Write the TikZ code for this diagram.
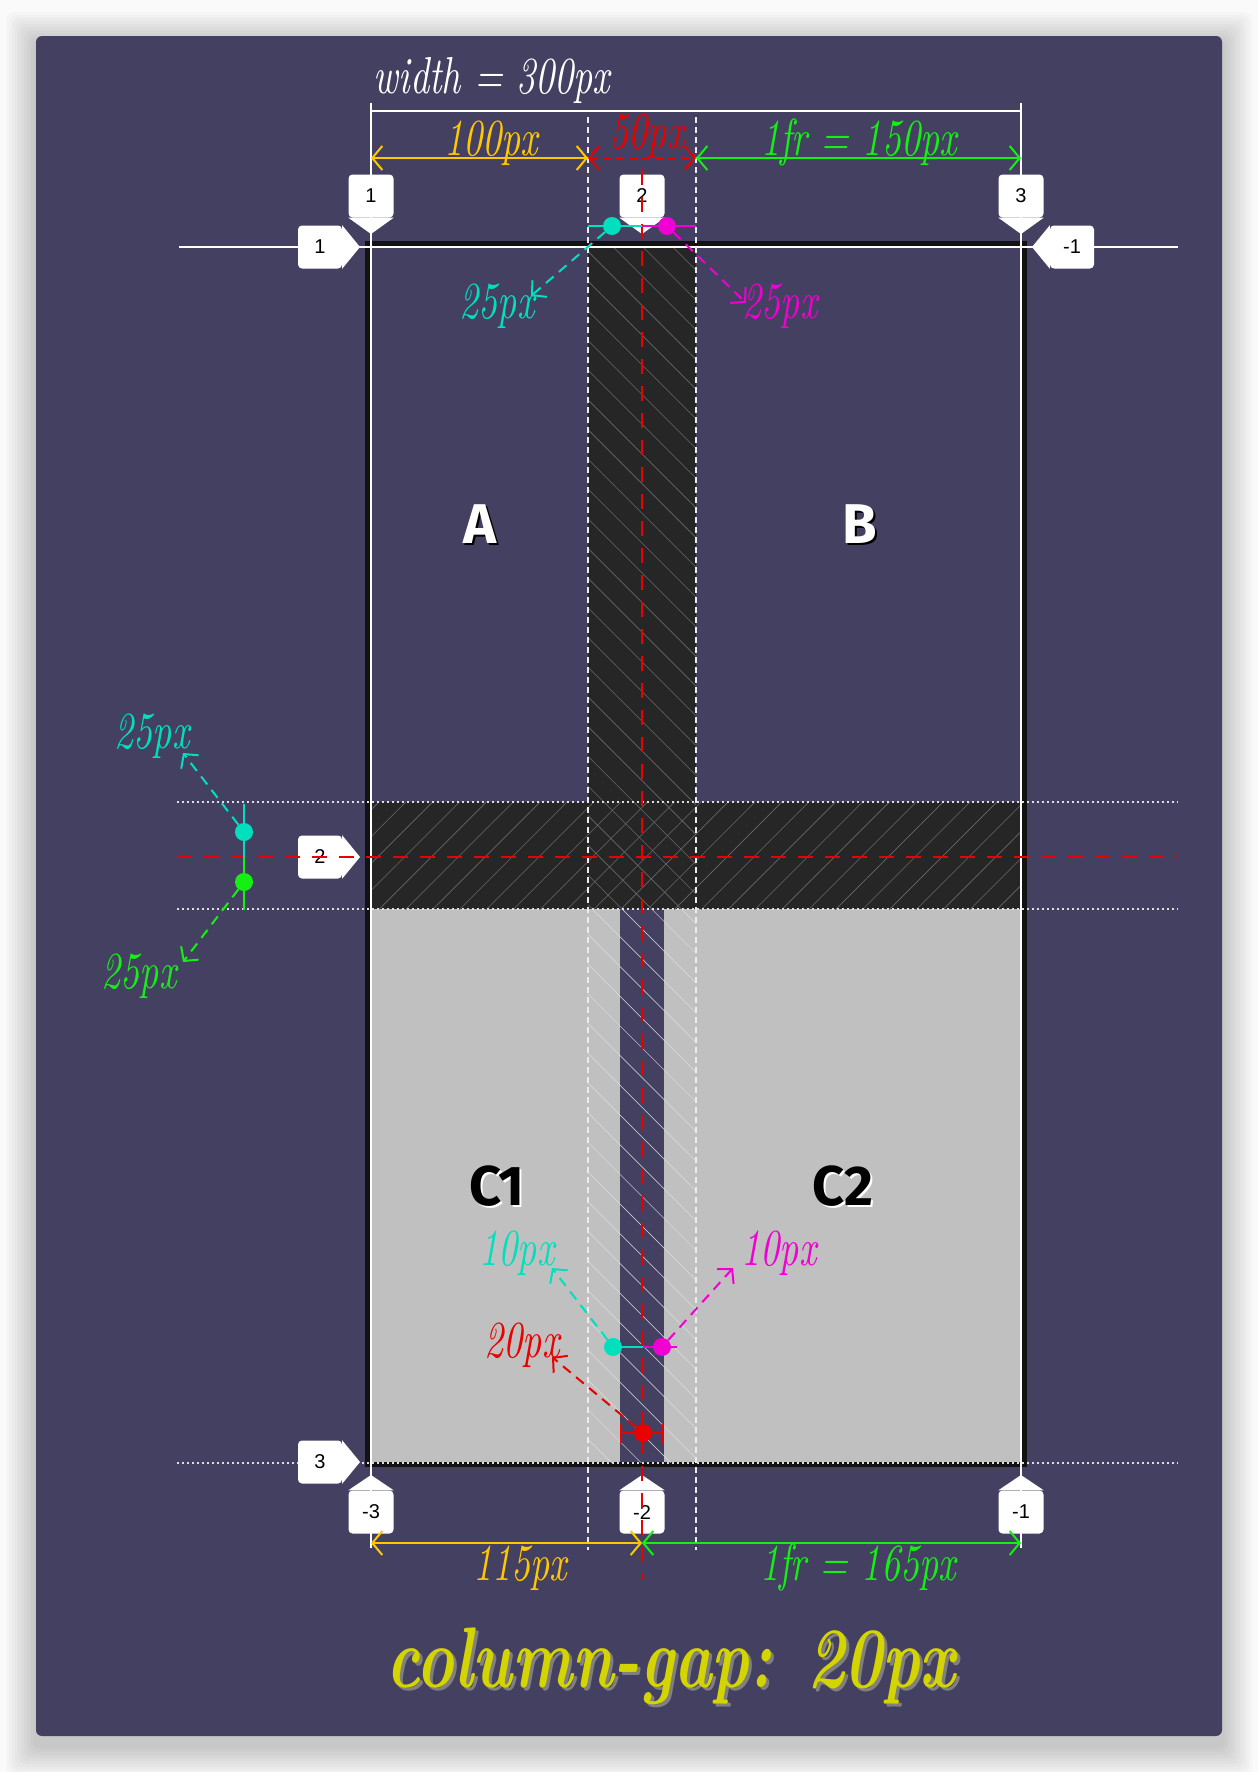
\documentclass[tikz,border=0pt]{standalone}
\usepackage{fontspec}
\usetikzlibrary{arrows.meta,patterns.meta}

\newfontfamily\hand{lmroman10-italic.otf}[FakeStretch=0.72]
\newfontfamily\handbold{lmroman10-bolditalic.otf}[FakeStretch=0.74]
\newfontfamily\badgefont{Liberation Sans}
\newfontfamily\cellfont{Fira Sans}

\definecolor{pagebg}{RGB}{250,250,250}
\definecolor{panel}{RGB}{68,64,98}
\definecolor{gapdark}{RGB}{38,38,38}
\definecolor{cellgrey}{RGB}{192,192,192}
\definecolor{hatchdark}{RGB}{105,105,105}
\definecolor{hatchlight}{RGB}{222,222,222}
\definecolor{gridaqua}{RGB}{0,224,190}
\definecolor{gridpink}{RGB}{240,0,210}
\definecolor{gridlime}{RGB}{20,240,20}
\definecolor{gridgold}{RGB}{255,200,0}
\definecolor{gridred}{RGB}{235,0,0}
\definecolor{titleyellow}{RGB}{212,212,0}

\tikzset{
  gridline/.style={white, line width=2pt},
  dotline/.style={white!75!gray, line width=1.5pt, dash pattern=on 2pt off 3pt},
  dashline/.style={white!85!gray, line width=1.5pt, dash pattern=on 6pt off 4pt},
  redline/.style={gridred, line width=2.5pt, dash pattern=on 15pt off 12pt},
  dimarrow/.style={line width=2pt, {Straight Barb[length=10pt,width=24pt]}-{Straight Barb[length=10pt,width=24pt]}},
  dasharrow/.style={line width=2pt, dash pattern=on 10pt off 7pt, -{Straight Barb[length=10pt,width=22pt]}},
  dot/.style={circle, minimum size=18pt, inner sep=0pt},
  badge/.style={fill=white, rounded corners=4pt, inner sep=0pt, minimum height=43pt, font=\badgefont\fontsize{20}{24}\selectfont},
  colbadge/.style={badge, minimum width=45pt},
  rowbadge/.style={badge, minimum width=44pt},
  dimlabel/.style={font=\hand\fontsize{52}{60}\selectfont, anchor=base, inner sep=0pt},
  celllabel/.style={font=\cellfont\bfseries\fontsize{56}{64}\selectfont, anchor=base, inner sep=0pt},
}

\begin{document}
\begin{tikzpicture}[x=1pt, y=-1pt]
    \useasboundingbox (0,0) rectangle (1258,1772);
    \fill[pagebg] (0,0) rectangle (1258,1772);
    % soft shadow and panel
    \foreach \s in {1,...,10}
        \fill[black, opacity=0.018, rounded corners=8pt] (36-3*\s,36-3*\s+6) rectangle (1222+3*\s,1736+3*\s+10);
    \fill[panel, rounded corners=6pt] (36,36) rectangle (1222,1736);

    % grid container, tracks and gaps
    \draw[line width=5pt, black!93] (367.5,243.5) rectangle (1024.5,1464.5);
    \fill[gapdark] (588,247) rectangle (696,802);
    \fill[gapdark] (371,802) rectangle (1021,909);
    \fill[cellgrey] (371,909) rectangle (620,1462);
    \fill[cellgrey] (664,909) rectangle (1021,1462);
    \fill[pattern={Lines[angle=-45,distance=21pt,line width=0.6pt]}, pattern color=hatchdark] (588,247) rectangle (696,909);
    \fill[pattern={Lines[angle=45,distance=19pt,line width=0.6pt]}, pattern color=hatchdark] (371,802) rectangle (1021,909);
    \fill[pattern={Lines[angle=-45,distance=21pt,line width=0.5pt]}, pattern color=hatchlight] (588,909) rectangle (696,1462);

    % grid lines
    \draw[gridline] (179,247) -- (1178,247);
    \draw[dotline] (177,802) -- (1178,802);
    \draw[dotline] (177,909) -- (1178,909);
    \draw[dotline] (177,1463) -- (1178,1463);
    \draw[gridline] (371,103) -- (371,1548);
    \draw[gridline] (1021,103) -- (1021,1548);
    \draw[gridline] (371,111) -- (1021,111);
    \draw[dashline] (588,117) -- (588,1550);
    \draw[dashline] (696,117) -- (696,1550);

    % line number badges
    \node[colbadge] (ct1) at (371,196) {1};
    \node[colbadge] (ct2) at (642,196) {2};
    \node[colbadge] (ct3) at (1021,196) {3};
    \fill[white] (ct1.south west) -- (371,234) -- (ct1.south east) -- cycle;
    \fill[white] (ct2.south west) -- (642,234) -- (ct2.south east) -- cycle;
    \fill[white] (ct3.south west) -- (1021,234) -- (ct3.south east) -- cycle;
    \node[colbadge] (cb1) at (371,1512) {-3};
    \node[colbadge] (cb2) at (642,1512) {-2};
    \node[colbadge] (cb3) at (1021,1512) {-1};
    \fill[white] (cb1.north west) -- (371,1475) -- (cb1.north east) -- cycle;
    \fill[white] (cb2.north west) -- (642,1475) -- (cb2.north east) -- cycle;
    \fill[white] (cb3.north west) -- (1021,1475) -- (cb3.north east) -- cycle;
    \node[rowbadge] (rl1) at (320,247) {1};
    \node[rowbadge] (rl2) at (320,857) {2};
    \node[rowbadge] (rl3) at (320,1462) {3};
    \node[rowbadge] (rr1) at (1072,247) {-1};
    \fill[white] (rl1.north east) -- (360,247) -- (rl1.south east) -- cycle;
    \fill[white] (rl2.north east) -- (360,857) -- (rl2.south east) -- cycle;
    \fill[white] (rl3.north east) -- (360,1462) -- (rl3.south east) -- cycle;
    \fill[white] (rr1.north west) -- (1032,247) -- (rr1.south west) -- cycle;

    % centre lines of the gaps
    \draw[redline] (642,170) -- (642,1580);
    \draw[redline] (177,857) -- (1178,857);

    % track sizes on top
    \coordinate (tw1) at (371,158);
    \coordinate (tw2) at (588,158);
    \coordinate (tw3) at (696,158);
    \coordinate (tw4) at (1021,158);
    \draw[dimarrow, gridgold] (tw1) -- (tw2);
    \draw[dimarrow, gridred, dash pattern=on 8pt off 5pt] (tw2) -- (tw3);
    \draw[dimarrow, gridlime] (tw3) -- (tw4);
    \node[dimlabel, text=white] (lwidth) at (492,93) {width = 300px};
    \node[dimlabel, text=gridgold] (l100) at (491,155) {100px};
    \node[dimlabel, text=gridred] (l50) at (647,148) {50px};
    \node[dimlabel, text=gridlime] (l150) at (859,155) {1fr = 150px};

    % track sizes at the bottom
    \coordinate (bw1) at (371,1543);
    \coordinate (bw2) at (642,1543);
    \coordinate (bw3) at (1021,1543);
    \draw[dimarrow, gridgold] (bw1) -- (bw2);
    \draw[dimarrow, gridlime] (bw2) -- (bw3);
    \node[dimlabel, text=gridgold] (l115) at (520,1580) {115px};
    \node[dimlabel, text=gridlime] (l165) at (858,1580) {1fr = 165px};

    % half gaps, top
    \draw[gridaqua, line width=2pt] (588,226) -- (642,226);
    \draw[gridpink, line width=2pt] (642,226) -- (696,226);
    \node[dot, fill=gridaqua] (tdl) at (612,226) {};
    \node[dot, fill=gridpink] (tdr) at (667,226) {};
    \coordinate (tal) at (531,296);
    \coordinate (tar) at (746,303);
    \draw[dasharrow, gridaqua] (tdl) -- (tal);
    \draw[dasharrow, gridpink] (tdr) -- (tar);
    \node[dimlabel, text=gridaqua] (l25a) at (497,318) {25px};
    \node[dimlabel, text=gridpink] (l25b) at (780,318) {25px};

    % half gaps, left
    \draw[gridaqua, line width=2pt] (244,804) -- (244,857);
    \draw[gridlime, line width=2pt] (244,857) -- (244,910);
    \node[dot, fill=gridaqua] (ldt) at (244,832) {};
    \node[dot, fill=gridlime] (ldb) at (244,882) {};
    \coordinate (lat) at (183,753);
    \coordinate (lab) at (183,962);
    \draw[dasharrow, gridaqua] (ldt) -- (lat);
    \draw[dasharrow, gridlime] (ldb) -- (lab);
    \node[dimlabel, text=gridaqua] (l25c) at (152,748) {25px};
    \node[dimlabel, text=gridlime] (l25d) at (139,988) {25px};

    % column gap in the lower row
    \draw[gridaqua, line width=2pt] (613,1347) -- (643,1347);
    \draw[gridpink, line width=2pt] (643,1347) -- (677,1347);
    \node[dot, fill=gridaqua] (bdl) at (613,1347) {};
    \node[dot, fill=gridpink] (bdr) at (662,1347) {};
    \coordinate (bal) at (552,1268);
    \coordinate (bar) at (733,1268);
    \draw[dasharrow, gridaqua] (bdl) -- (bal);
    \draw[dasharrow, gridpink] (bdr) -- (bar);
    \node[dimlabel, text=gridaqua] (l10a) at (517,1265) {10px};
    \node[dimlabel, text=gridpink] (l10b) at (779,1265) {10px};
    \draw[gridred, line width=2pt, {Bar[width=20pt]}-{Bar[width=20pt]}] (620,1433) -- (664,1433);
    \node[dot, fill=gridred] (bdc) at (643,1433) {};
    \coordinate (bac) at (552,1357);
    \draw[dasharrow, gridred] (bdc) -- (bac);
    \node[dimlabel, text=gridred] (l20) at (522,1357) {20px};

    % grid items
    \node[celllabel, text=black] at (482,545) {A};
    \node[celllabel, text=white] (itemA) at (480,543) {A};
    \node[celllabel, text=black] at (862,545) {B};
    \node[celllabel, text=white] (itemB) at (860,543) {B};
    \node[celllabel, text=white] at (499,1207) {C1};
    \node[celllabel, text=black] (itemC1) at (497,1205) {C1};
    \node[celllabel, text=white] at (845,1207) {C2};
    \node[celllabel, text=black] (itemC2) at (843,1205) {C2};

    % title
    \node[anchor=base, inner sep=0pt, font=\handbold\fontsize{86}{96}\selectfont, text=gray] at (674,1690) {column-gap: 20px};
    \node[anchor=base, inner sep=0pt, font=\handbold\fontsize{86}{96}\selectfont, text=titleyellow] (title) at (671,1687) {column-gap: 20px};
\end{tikzpicture}
\end{document}
